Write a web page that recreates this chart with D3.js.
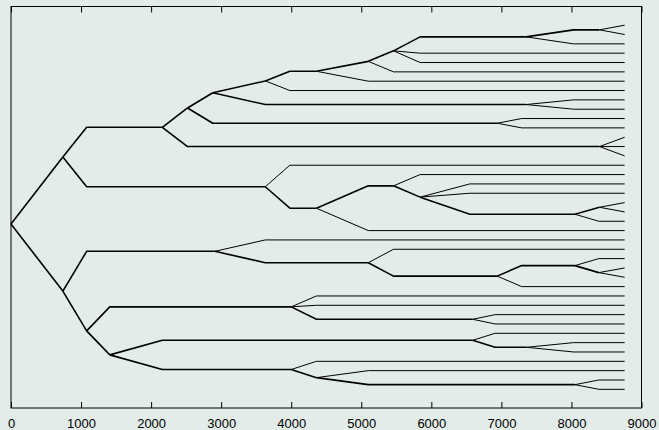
<!DOCTYPE html>
<html>
<head>
<meta charset="utf-8">
<script src="https://cdn.jsdelivr.net/npm/d3@7"></script>
<style>
  body { margin: 0; background: #e3ece9; }
  svg { display: block; }
</style>
</head>
<body>
<div id="chart"></div>
<script>
// time at which every tip ends
const tipTime = 8760;
const xTicks = d3.range(0, 9001, 1000);

// inner nodes: id, parent, time the branch reaches the node row, time of the split
const innerIds     = ['root', 'A', 'B', 'D', 'E', 'G', 'H', 'H2', 'H3', 'H4', 'H5', 'F', 'I', 'J',
                      'C', 'K', 'O', 'L', 'M', 'N',
                      'P', 'Q', 'V', 'U', 'S', 'T', 'R', 'W', 'Y', 'X', 'Z', 'AA', 'AB', 'AC', 'AD'];
const innerParents = ['', 'root', 'A', 'B', 'D', 'E', 'G', 'H', 'H2', 'H3', 'H4', 'E', 'D', 'B',
                      'A', 'C', 'K', 'O', 'L', 'M',
                      'root', 'P', 'Q', 'V', 'U', 'S', 'P', 'R', 'W', 'R', 'X', 'Z', 'X', 'AB', 'AC'];
const innerStarts  = [0, 740, 1080, 2520, 2880, 3630, 3980, 5100, 5460, 5840, 8030, 3630, 2880, 2520,
                      1080, 3980, 5100, 5840, 6550, 8400,
                      740, 1080, 3630, 5460, 7290, 8390, 1080, 1410, 4360, 1410, 2160, 6910, 2160, 4360, 5100];
const innerEnds    = [0, 740, 2160, 2520, 2880, 3630, 4360, 5100, 5460, 7350, 8400, 7350, 6940, 8400,
                      3630, 4360, 5460, 5840, 8050, 8400,
                      740, 2910, 5100, 6940, 8050, 8390, 1080, 4000, 6590, 1410, 6590, 7360, 4000, 4360, 8050];

// tips, listed top to bottom: parent and time the branch reaches the tip row
const tipParents = ['H5', 'H5', 'H4', 'H3', 'H3', 'H2', 'H', 'G', 'F', 'F', 'I', 'I', 'J', 'J', 'J',
                    'C', 'O', 'L', 'L', 'N', 'N', 'M', 'K',
                    'Q', 'V', 'S', 'T', 'T', 'U', 'W', 'W', 'Y', 'Y', 'Z', 'AA', 'AA', 'AB', 'AC', 'AD', 'AD'];
const tipStarts  = [8760, 8760, 8030, 5840, 5840, 5460, 5100, 3980, 8030, 8030, 7290, 7290, 8760, 8760, 8760,
                    3980, 5840, 6550, 6550, 8760, 8760, 8390, 5100,
                    3630, 5460, 8390, 8760, 8760, 7290, 4360, 4360, 6910, 6910, 6910, 8030, 8030, 4360, 5100, 8390, 8390];

const width = 659, height = 430;
const margin = { top: 6.5, right: 17.5, bottom: 22, left: 11 };

const svg = d3.select('#chart')
  .append('svg')
  .attr('width', width)
  .attr('height', height);

svg.append('rect')
  .attr('width', width)
  .attr('height', height)
  .attr('fill', '#e3ece9');

const x = d3.scaleLinear()
  .domain([0, 9000])
  .range([margin.left, width - margin.right]);

const y = d3.scaleLinear()
  .domain([-2, tipParents.length + 1])
  .range([margin.top, height - margin.bottom]);

const rows = innerIds.map((id, i) => ({ id, parent: innerParents[i], start: innerStarts[i], end: innerEnds[i] }))
  .concat(tipParents.map((p, i) => ({ id: 'tip' + i, parent: p, start: tipStarts[i], end: tipTime, order: i })));

const root = d3.stratify()
  .id(d => d.id)
  .parentId(d => d.parent || null)(rows);

// row of a tip is its order; an inner node sits halfway between its children
root.eachAfter(n => {
  n.row = n.children ? d3.mean(n.children, c => c.row) : n.data.order;
});

svg.append('g')
  .selectAll('path')
  .data(root.links())
  .enter()
  .append('path')
  .attr('d', l => {
    const p = l.source, c = l.target;
    return `M${x(p.data.end)},${y(p.row)}L${x(c.data.start)},${y(c.row)}L${x(c.data.end)},${y(c.row)}`;
  })
  .attr('fill', 'none')
  .attr('stroke', '#000')
  .attr('stroke-width', l => l.target.children ? 1.6 : 1)
  .attr('stroke-linejoin', 'round');

// frame
svg.append('rect')
  .attr('x', x(0))
  .attr('y', margin.top)
  .attr('width', x(9000) - x(0))
  .attr('height', height - margin.bottom - margin.top)
  .attr('fill', 'none')
  .attr('stroke', '#000')
  .attr('stroke-width', 1);

const bottomAxis = svg.append('g')
  .attr('transform', `translate(0,${height - margin.bottom})`)
  .call(d3.axisBottom(x).tickValues(xTicks).tickSizeInner(-6).tickSizeOuter(0).tickPadding(11).tickFormat(d3.format('d')));
bottomAxis.select('.domain').remove();
bottomAxis.selectAll('text')
  .style('font-family', '"Liberation Sans", Arial, sans-serif')
  .style('font-size', '13px')
  .attr('fill', '#000');

const topAxis = svg.append('g')
  .attr('transform', `translate(0,${margin.top})`)
  .call(d3.axisTop(x).tickValues(xTicks).tickSizeInner(-6).tickSizeOuter(0).tickFormat(''));
topAxis.select('.domain').remove();
</script>
</body>
</html>
